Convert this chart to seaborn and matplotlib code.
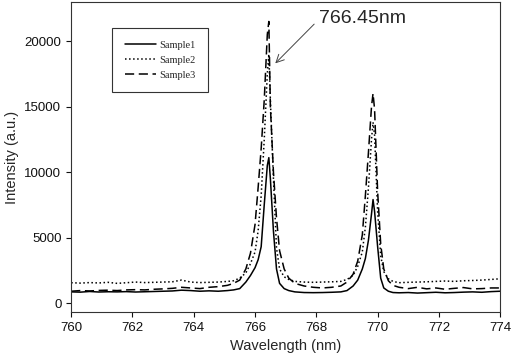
# Emission spectra of three samples around the K doublet (766/770 nm)

import pandas as pd
import matplotlib
matplotlib.use("Agg")
import matplotlib.pyplot as plt
import seaborn as sns

# Wavelength grid (nm), shared by the three spectra
wavelength = [760.0, 760.3, 760.6, 760.9, 761.2, 761.5, 761.8, 762.1, 762.4, 762.7,
              763.0, 763.3, 763.6, 763.9, 764.2, 764.5, 764.8, 765.1, 765.3, 765.5,
              765.7, 765.85, 766.0, 766.1, 766.2, 766.3, 766.4, 766.45, 766.5, 766.6,
              766.7, 766.8, 766.95, 767.1, 767.3, 767.6, 767.9, 768.2, 768.5, 768.8,
              769.0, 769.2, 769.35, 769.5, 769.6, 769.7, 769.8, 769.85, 769.9, 770.0,
              770.1, 770.2, 770.35, 770.5, 770.7, 771.0, 771.3, 771.6, 771.9, 772.2,
              772.5, 772.8, 773.1, 773.4, 773.7, 774.0]

sample1 = [850, 830, 880, 840, 860, 850, 870, 840, 860, 880,
           900, 920, 980, 950, 900, 930, 900, 950, 1000, 1100,
           1600, 2100, 2700, 3300, 4300, 7500, 10500, 11100, 9500, 5500,
           2600, 1500, 1100, 950, 850, 800, 790, 800, 820, 850,
           950, 1300, 1750, 2600, 3400, 4800, 6800, 7900, 7000, 4300,
           1900, 1150, 900, 800, 780, 800, 760, 790, 820, 780,
           800, 830, 850, 820, 870, 900]

sample2 = [1550, 1520, 1560, 1530, 1580, 1500, 1550, 1600, 1560, 1580,
           1600, 1620, 1750, 1600, 1560, 1580, 1600, 1650, 1700, 1900,
           2300, 3000, 3900, 5500, 8200, 12500, 17500, 19000, 15500, 9500,
           4200, 2600, 2000, 1800, 1650, 1600, 1580, 1600, 1620, 1650,
           1800, 2100, 2800, 3900, 5800, 8800, 12500, 13800, 12800, 7000,
           3600, 2400, 1850, 1650, 1550, 1580, 1600, 1620, 1650, 1680,
           1650, 1700, 1720, 1750, 1800, 1850]

sample3 = [900, 950, 920, 960, 980, 950, 1000, 1020, 1000, 1050,
           1080, 1120, 1200, 1150, 1100, 1200, 1250, 1350, 1500, 1750,
           2600, 3800, 6000, 8800, 11800, 15500, 20500, 21500, 15000, 10000,
           6500, 4000, 2600, 1900, 1500, 1300, 1200, 1150, 1200, 1300,
           1600, 2200, 3200, 5200, 8200, 11500, 15000, 16000, 14800, 8500,
           4500, 2600, 1700, 1350, 1200, 1100, 1200, 1080, 1150, 1050,
           1120, 1180, 1080, 1100, 1150, 1150]

df = pd.DataFrame({"wavelength": wavelength, "Sample1": sample1,
                   "Sample2": sample2, "Sample3": sample3})

sns.set_style("ticks")
plt.rcParams["font.family"] = ["Liberation Sans", "DejaVu Sans"]

fig = plt.figure(figsize=(5.12, 3.63), dpi=100)
ax = fig.add_axes([0.139, 0.14, 0.838, 0.855])

styles = {"Sample1": "-", "Sample2": ":", "Sample3": (0, (6, 3))}
for name, ls in styles.items():
    sns.lineplot(data=df, x="wavelength", y=name, ax=ax, color="black",
                 linestyle=ls, linewidth=1.1, label=name)

ax.set_xlim(760, 774)
ax.set_ylim(-700, 23000)
ax.set_xticks([760, 762, 764, 766, 768, 770, 772, 774])
ax.set_yticks([0, 5000, 10000, 15000, 20000])
ax.tick_params(direction="out", length=3.5, width=0.8, labelsize=9.5, colors="#111111")
for s in ax.spines.values():
    s.set_linewidth(0.8)
    s.set_color("#333333")
ax.set_xlabel("Wavelength (nm)", fontsize=10.5)
ax.set_ylabel("Intensity (a.u.)", fontsize=10.5)

# Peak annotation
ax.annotate("766.45nm", xy=(766.66, 18300), xytext=(768.1, 21700),
            fontsize=14, ha="left", va="center",
            arrowprops=dict(arrowstyle="->", color="#444444", lw=0.7,
                            relpos=(0, 0.5), shrinkA=2, shrinkB=0,
                            mutation_scale=14))

leg = ax.legend(loc="upper left", bbox_to_anchor=(0.096, 0.916), borderaxespad=0,
                prop={"family": "Liberation Serif", "size": 7.5}, handlelength=3.0,
                handletextpad=0.3, borderpad=1.2, labelspacing=0.55,
                fancybox=False, framealpha=1)
leg.get_frame().set_edgecolor("#333333")
leg.get_frame().set_linewidth(0.8)

fig.savefig("out.png", dpi=100)
